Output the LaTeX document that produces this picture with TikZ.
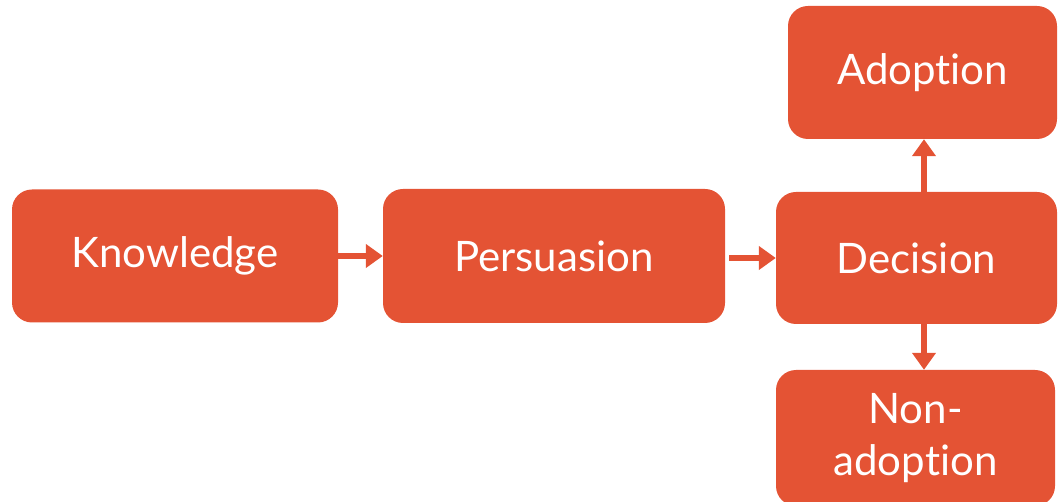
\documentclass[tikz,border=0pt]{standalone}
\usepackage{fontspec}
\setmainfont{Lato}[RawFeature={-liga}]
\usetikzlibrary{arrows.meta}
\definecolor{boxred}{RGB}{228,83,52}
\begin{document}
\begin{tikzpicture}[x=1pt,y=-1pt,
  stage/.style={fill=boxred,rounded corners=20pt,text=white,align=center,
    inner sep=0pt,font=\fontsize{42}{52}\selectfont},
  flow/.style={draw=boxred,line width=5.5pt,
    -{Triangle[length=17pt,width=23pt]}}]
\useasboundingbox (0,0) rectangle (1058,502);
\begin{scope}
\clip (0,0) rectangle (1058,502);
\node[stage,minimum width=326pt,minimum height=133pt] (know) at (175,256) {Knowledge};
\node[stage,minimum width=342pt,minimum height=134pt] (pers) at (554,256) {Persuasion};
\node[stage,minimum width=281pt,minimum height=132pt] (dec) at (916.5,258) {Decision};
\node[stage,minimum width=269pt,minimum height=133pt] (adopt) at (922.5,72.5) {Adoption};
\node[stage,minimum width=279pt,minimum height=136pt] (nonad) at (915.5,438) {Non-\\adoption};
\end{scope}
\draw[flow] (know.east) -- (pers.west);
\draw[flow] ([xshift=4pt]pers.east |- dec.west) -- (dec.west);
\draw[flow] ([xshift=7.5pt,yshift=-6pt]dec.north) -- ([xshift=1.5pt]adopt.south);
\draw[flow] ([xshift=7.5pt]dec.south) -- ([xshift=8.5pt]nonad.north);
\end{tikzpicture}
\end{document}
